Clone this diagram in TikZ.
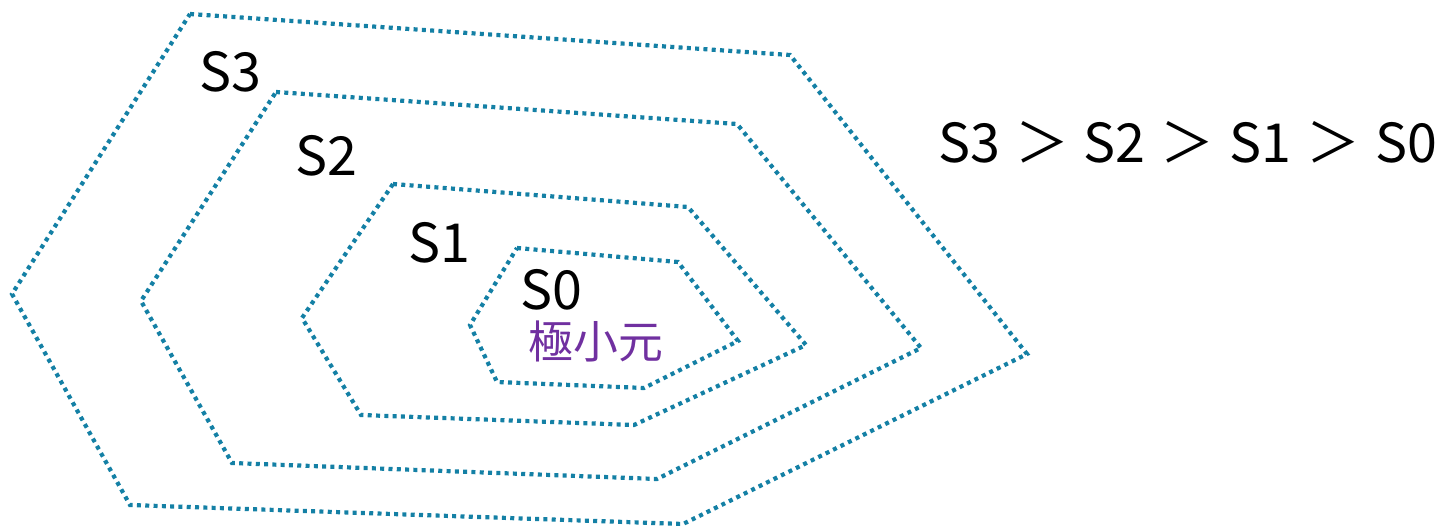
\documentclass[tikz,border=0pt]{standalone}
\usepackage{fontspec}
\setmainfont{Noto Sans CJK JP}
\definecolor{dotblue}{RGB}{20,128,165}
\definecolor{minpurple}{RGB}{112,48,160}
\newcommand{\gtsep}{\hspace{15bp}＞\hspace{15bp}}
\begin{document}
\begin{tikzpicture}[x=1bp,y=-1bp,
  level/.style={draw=dotblue,line width=4.2bp,dash pattern=on 4bp off 4.3bp,line join=miter},
  lab/.style={inner sep=0pt,font=\fontsize{54}{60}\selectfont},
  minlab/.style={inner sep=0pt,text=minpurple,font=\fontsize{45}{50}\selectfont}]
\useasboundingbox (0,0) rectangle (1437,527);
\draw[level] (190,14) -- (790,55) -- (1027,354) -- (683,524) -- (130,505) -- (12,294) -- cycle;
\draw[level] (276,92) -- (737,124) -- (921,348) -- (657,479) -- (232,463) -- (141,301) -- cycle;
\draw[level] (393,184) -- (688,207) -- (806,345) -- (634,425) -- (361,415) -- (302,318) -- cycle;
\draw[level] (517,248) -- (678,262) -- (738,341) -- (644,388) -- (497,382) -- (470,325) -- cycle;
\node[lab] (s3) at (230,72) {S3};
\node[lab] (s2) at (326,156) {S2};
\node[lab] (s1) at (439,243) {S1};
\node[lab] (s0) at (551,290) {S0};
\node[minlab] (min) at (596,341) {極小元};
\node[lab,anchor=west] (order) at (938,142) {S3\gtsep S2\gtsep S1\gtsep S0};
\end{tikzpicture}
\end{document}
